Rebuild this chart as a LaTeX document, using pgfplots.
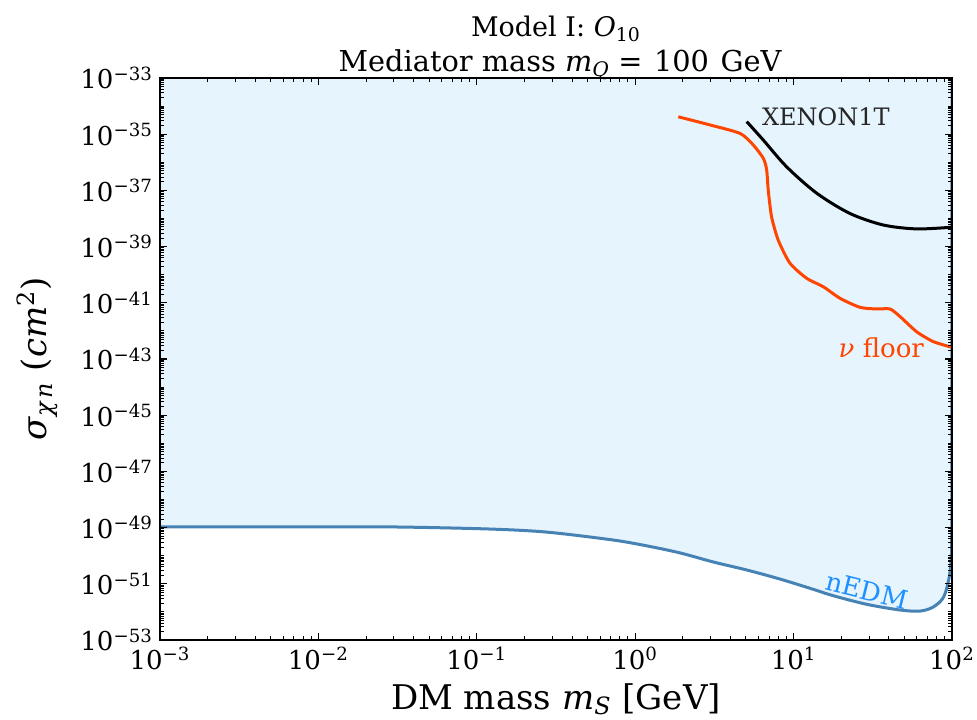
\documentclass[border=0pt]{standalone}
\usepackage{fontspec}
\setmainfont{DejaVu Serif}
\usepackage{pgfplots}
\usepackage{pgfplotstable}
\pgfplotsset{compat=1.18}
\definecolor{fillblue}{RGB}{229,244,253}
\definecolor{nedmline}{RGB}{70,130,180}
\definecolor{nedmtext}{RGB}{30,144,255}
\definecolor{floorred}{RGB}{255,69,0}

\newcommand{\logticklabel}[1]{\pgfmathtruncatemacro{\ex}{round(#1/2.302585093)}10\textsuperscript{\ifnum\ex<0 −\number\numexpr-\ex\relax\else\ex\fi}}

\def\yminor{1e-34}
\foreach \e in {-53,...,-34}{\foreach \m in {2,...,9}{\xdef\yminor{\yminor,\m e\e}}}
\foreach \e in {-52,-50,...,-36}{\xdef\yminor{\yminor,1e\e}}
\def\xminor{1e-3}
\foreach \e in {-3,...,1}{\foreach \m in {2,...,9}{\xdef\xminor{\xminor,\m e\e}}}

\pgfplotstableread{
x y
0.001 1.07e-49
0.01 1.07e-49
0.0327 1.05e-49
0.121 8.91e-50
0.277 6.92e-50
0.724 3.63e-50
1.186 2.24e-50
1.919 1.26e-50
3.097 6.03e-51
5.082 3.09e-51
8.204 1.48e-51
12.71 6.92e-52
17.74 3.80e-52
29.04 1.86e-52
46.99 1.17e-52
62.81 1.07e-52
75.86 1.48e-52
87.70 3.09e-52
94.41 1.07e-51
98.63 7.08e-51
99.77 1e-48
100 1e-33
}\nedm

\pgfplotstableread{
x y
0.001 1.07e-49
0.01 1.07e-49
0.0327 1.05e-49
0.121 8.91e-50
0.277 6.92e-50
0.724 3.63e-50
1.186 2.24e-50
1.919 1.26e-50
3.097 6.03e-51
5.082 3.09e-51
8.204 1.48e-51
12.71 6.92e-52
17.74 3.80e-52
29.04 1.86e-52
46.99 1.17e-52
62.81 1.07e-52
75.86 1.48e-52
87.70 3.09e-52
94.41 1.07e-51
98.63 7.08e-51
99.77 1e-48
100 1e-33
0.001 1e-33
}\nedmfill

\pgfplotstableread{
x y
1.871 4.17e-35
2.965 2.14e-35
4.592 1.07e-35
5.559 4.17e-36
6.442 1.38e-36
6.761 5.37e-37
6.918 1.02e-37
7.261 1.15e-38
7.998 1.70e-39
9.484 2.57e-40
12.11 7.41e-41
15.42 3.72e-41
19.63 1.45e-41
26.24 6.92e-42
33.50 6.03e-42
40.64 6.03e-42
46.99 3.24e-42
59.84 9.33e-43
76.21 4.17e-43
99.54 2.63e-43
}\nufloor

\pgfplotstableread{
x y
5.058 2.82e-35
6.442 6.17e-36
9.036 6.92e-37
14.0 7.94e-38
22.70 1.51e-38
36.81 5.89e-39
59.84 4.27e-39
99.54 4.90e-39
}\xenon

\begin{document}
\begin{tikzpicture}
\path[use as bounding box] (0,0) rectangle (488.5pt,359.5pt);
\begin{axis}[
  at={(80pt,39.5pt)}, anchor=south west,
  scale only axis, width=396pt, height=281pt,
  xmode=log, ymode=log,
  xmin=1e-3, xmax=1e2, ymin=1e-53, ymax=1e-33,
  xtick={1e-3,1e-2,1e-1,1e0,1e1,1e2},
  ytick={1e-53,1e-51,1e-49,1e-47,1e-45,1e-43,1e-41,1e-39,1e-37,1e-35,1e-33},
  minor xtick/.expanded={\xminor},
  minor ytick/.expanded={\yminor},
  xticklabel={\logticklabel{\tick}},
  yticklabel={\logticklabel{\tick}},
  tick align=inside, tick pos=both,
  xticklabel pos=lower, yticklabel pos=left,
  major tick length=3.5pt, minor tick length=2pt,
  tick style={black, line width=0.6pt},
  minor tick style={line width=0.5pt},
  axis line style={line width=1pt},
  axis on top,
  tick label style={font=\fontsize{13}{15}\selectfont},
]
\addplot[fill=fillblue, draw=none, forget plot] table[x=x,y=y] {\nedmfill};
\addplot[color=nedmline, line width=1.5pt, smooth] table[x=x,y=y] {\nedm};
\addplot[color=floorred, line width=1.5pt, smooth, tension=0.4] table[x=x,y=y] {\nufloor};
\addplot[color=black, line width=1.5pt, smooth] table[x=x,y=y] {\xenon};
\node[anchor=west, font=\fontsize{12}{14}\selectfont, text=black!85] at (axis cs:5.7,4.07e-35) {XENON1T};
\node[anchor=base east, font=\fontsize{13}{15}\selectfont, text=floorred] at (axis cs:73.6,1.17e-43) {\textit{ν} floor};
\node[rotate=-14, font=\fontsize{13}{15}\selectfont, text=nedmtext] at (axis cs:29.0,5.8e-52) {nEDM};
\end{axis}
\node[anchor=base, font=\fontsize{13.5}{16}\selectfont] at (278pt,341pt) {Model I: \textit{O}\textsubscript{10}};
\node[anchor=base, font=\fontsize{14.4}{17}\selectfont] at (280pt,323.5pt) {Mediator mass \textit{m}\textsubscript{\textit{Q}}\hspace{0.3em}=\hspace{0.4em}100\hspace{0.4em}GeV};
\node[anchor=base, font=\fontsize{17}{20}\selectfont] at (278pt,5pt) {DM mass \textit{m}\textsubscript{\textit{S}} [GeV]};
\node[rotate=90, font=\fontsize{17}{20}\selectfont] at (18.5pt,180pt) {\textit{σ}\textsubscript{\textit{χ\,n}} (\textit{cm}\textsuperscript{2})};
\end{tikzpicture}
\end{document}
